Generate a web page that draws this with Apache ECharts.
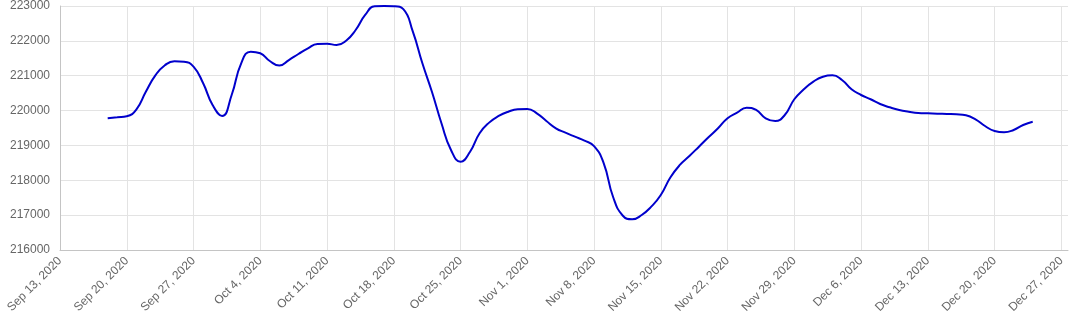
<!DOCTYPE html>
<html>
<head>
<meta charset="utf-8">
<script src="https://cdn.jsdelivr.net/npm/echarts@6/dist/echarts.min.js"></script>
<style>
html,body{margin:0;padding:0;background:#fff;}
#chart{width:1081px;height:325px;}
</style>
</head>
<body>
<div id="chart"></div>
<script>
// Axis origin and weekly tick labels
const axisStart = '2020-09-13';
const tickLabels = ['Sep 13, 2020','Sep 20, 2020','Sep 27, 2020','Oct 4, 2020','Oct 11, 2020','Oct 18, 2020','Oct 25, 2020','Nov 1, 2020','Nov 8, 2020','Nov 15, 2020','Nov 22, 2020','Nov 29, 2020','Dec 6, 2020','Dec 13, 2020','Dec 20, 2020','Dec 27, 2020'];
const yTicks = [216000, 217000, 218000, 219000, 220000, 221000, 222000, 223000];

// Daily dates
const dates = [
'2020-09-18','2020-09-19','2020-09-20','2020-09-21','2020-09-22','2020-09-23','2020-09-24','2020-09-25','2020-09-26','2020-09-27','2020-09-28','2020-09-29','2020-09-30',
'2020-10-01','2020-10-02','2020-10-03','2020-10-04','2020-10-05','2020-10-06','2020-10-07','2020-10-08','2020-10-09','2020-10-10','2020-10-11','2020-10-12','2020-10-13','2020-10-14','2020-10-15','2020-10-16','2020-10-17','2020-10-18','2020-10-19','2020-10-20','2020-10-21','2020-10-22','2020-10-23','2020-10-24','2020-10-25','2020-10-26','2020-10-27','2020-10-28','2020-10-29','2020-10-30','2020-10-31',
'2020-11-01','2020-11-02','2020-11-03','2020-11-04','2020-11-05','2020-11-06','2020-11-07','2020-11-08','2020-11-09','2020-11-10','2020-11-11','2020-11-12','2020-11-13','2020-11-14','2020-11-15','2020-11-16','2020-11-17','2020-11-18','2020-11-19','2020-11-20','2020-11-21','2020-11-22','2020-11-23','2020-11-24','2020-11-25','2020-11-26','2020-11-27','2020-11-28','2020-11-29','2020-11-30',
'2020-12-01','2020-12-02','2020-12-03','2020-12-04','2020-12-05','2020-12-06','2020-12-07','2020-12-08','2020-12-09','2020-12-10','2020-12-11','2020-12-12','2020-12-13','2020-12-14','2020-12-15','2020-12-16','2020-12-17','2020-12-18','2020-12-19','2020-12-20','2020-12-21','2020-12-22','2020-12-23','2020-12-24'
];
const values = [
219780,219807,219836,220030,220540,221010,221300,221414,221402,221260,220790,220160,219845,
220447,221356,221690,221643,221422,221290,221450,221623,221786,221910,221919,221880,222005,222312,222742,222990,223000,222995,222910,222263,221356,220540,219635,218869,218534,218820,219348,219654,219845,219968,220037,
220045,219922,219701,219492,219366,219251,219136,218980,218500,217520,216990,216880,217005,217243,217578,218080,218440,218697,218964,219233,219492,219780,219940,220083,220017,219778,219701,219873,220324,220610,
220830,220972,221012,220877,220610,220447,220324,220189,220094,220017,219968,219931,219920,219911,219902,219893,219864,219750,219558,219414,219377,219443,219586,219681
];

const DAY = 86400000;
const t0 = Date.parse(axisStart + 'T00:00:00Z');
const seriesData = dates.map((d, i) => [(Date.parse(d + 'T00:00:00Z') - t0) / DAY, values[i]]);

const chart = echarts.init(document.getElementById('chart'), null, {renderer: 'canvas'});
const font = '"Liberation Sans", Arial, Helvetica, sans-serif';
chart.setOption({
  animation: false,
  grid: {left: 60, right: 13, top: 6, bottom: 75, containLabel: false},
  xAxis: {
    type: 'value',
    min: 0,
    max: 105.7,
    interval: 7,
    axisLine: {show: true, lineStyle: {color: '#c4c4c4', width: 1}},
    axisTick: {show: false},
    splitLine: {show: true, showMinLine: false, showMaxLine: false, lineStyle: {color: '#e3e3e3', width: 1}},
    axisLabel: {
      rotate: 45, margin: 9, color: '#666', fontFamily: font, fontSize: 12,
      showMaxLabel: false,
      formatter: function (v) {
        const k = Math.round(v / 7);
        if (Math.abs(v - k * 7) > 1e-6) return '';
        return tickLabels[k] || '';
      }
    }
  },
  yAxis: {
    type: 'value',
    min: yTicks[0],
    max: yTicks[yTicks.length - 1],
    interval: 1000,
    axisLine: {show: true, lineStyle: {color: '#c4c4c4', width: 1}},
    axisTick: {show: false},
    splitLine: {show: true, lineStyle: {color: '#e3e3e3', width: 1}},
    axisLabel: {margin: 10, color: '#666', fontFamily: font, fontSize: 12, formatter: v => String(v)}
  },
  series: [{
    type: 'line',
    data: seriesData,
    smooth: 0.5,
    showSymbol: false,
    symbol: 'none',
    lineStyle: {color: '#0000cc', width: 2},
    clip: false
  }]
});
</script>
</body>
</html>
